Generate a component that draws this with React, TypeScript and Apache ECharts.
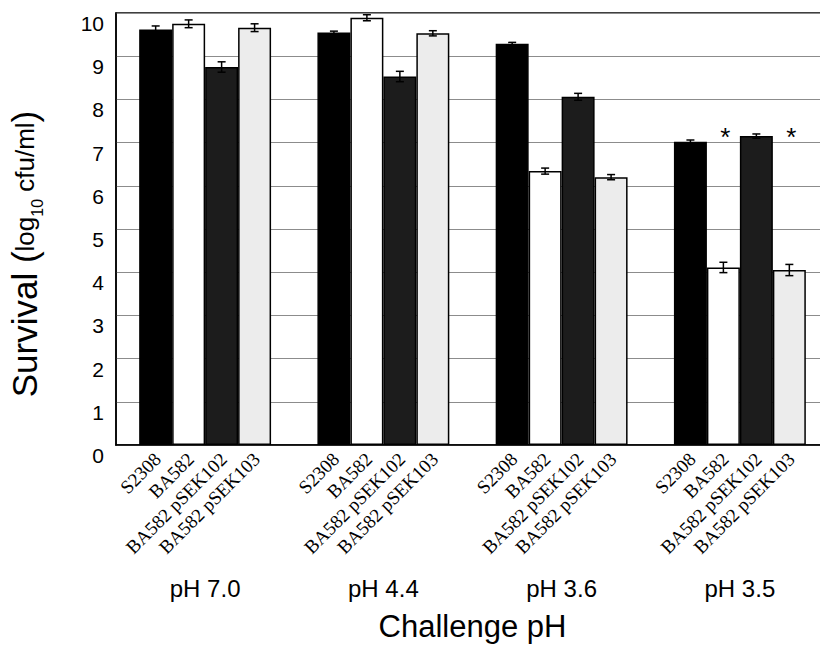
import React, { useEffect, useRef } from "react";
import * as echarts from "echarts";

const categories = ["pH 7.0", "pH 4.4", "pH 3.6", "pH 3.5"];
const strains = ["S2308", "BA582", "BA582 pSEK102", "BA582 pSEK103"];
const s2308 = [9.62, 9.55, 9.29, 7.02];
const ba582 = [9.75, 9.89, 6.34, 4.11];
const pSEK102 = [8.75, 8.53, 8.06, 7.15];
const pSEK103 = [9.66, 9.53, 6.2, 4.05];
const s2308Err = [0.08, 0.03, 0.03, 0.04];
const ba582Err = [0.09, 0.07, 0.07, 0.12];
const pSEK102Err = [0.12, 0.12, 0.08, 0.05];
const pSEK103Err = [0.09, 0.06, 0.06, 0.13];
// [category index, strain index, y position] for significance asterisks
const asterisks = [
  [3, 1, 7.28],
  [3, 3, 7.28],
];
const yTicks = [0, 10, 1];

const GAP = 0.26;
const SANS = "Liberation Sans";
const SERIF = "Liberation Serif";

export default function App() {
  const ref = useRef<HTMLDivElement>(null);
  useEffect(() => {
    if (!ref.current) return;
    const chart = echarts.init(ref.current, null, { renderer: "svg" });
    const values = [s2308, ba582, pSEK102, pSEK103];
    const errs = [s2308Err, ba582Err, pSEK102Err, pSEK103Err];
    const fills = ["#000000", "#ffffff", "#1c1c1c", "#ececec"];
    const errData: number[][] = [];
    categories.forEach((_, i) => {
      strains.forEach((_, j) => {
        errData.push([i, j, values[j][i], errs[j][i]]);
      });
    });

    const barX = (api: any, i: number, j: number) => {
      const band = api.size([1, 0])[0];
      const bw = (band * (1 - GAP)) / 4;
      return api.coord([i, 0])[0] + (j - 1.5) * bw;
    };

    chart.setOption({
      animation: false,
      backgroundColor: "#ffffff",
      grid: {
        left: 116,
        right: 1,
        top: 13,
        bottom: 202,
        show: true,
        borderColor: "#000",
        borderWidth: 1.5,
        backgroundColor: "transparent",
      },
      xAxis: {
        type: "category",
        data: categories,
        axisLine: { lineStyle: { color: "#000", width: 1.5 } },
        axisTick: { show: false },
        axisLabel: { margin: 131, fontSize: 24, color: "#000", fontFamily: SANS },
        name: "Challenge pH",
        nameLocation: "middle",
        nameGap: 166,
        nameTextStyle: { fontSize: 31, color: "#000", fontFamily: SANS },
      },
      yAxis: {
        type: "value",
        min: yTicks[0],
        max: yTicks[1],
        interval: yTicks[2],
        axisLine: { show: true, lineStyle: { color: "#000", width: 1.5 } },
        axisTick: { show: false },
        axisLabel: {
          margin: 12,
          fontSize: 21,
          color: "#000",
          fontFamily: SANS,
          verticalAlign: "top",
          lineHeight: 21,
        },
        splitLine: { show: true, lineStyle: { color: "#8c8c8c", width: 1 } },
      },
      graphic: [
        {
          type: "text",
          x: 22,
          y: 254,
          rotation: Math.PI / 2,
          style: {
            text: "{a|Survival (}{b|log}{c|10}{b| cfu/ml}{a|)}",
            textAlign: "center",
            textVerticalAlign: "middle",
            align: "center",
            verticalAlign: "middle",
            fill: "#000",
            rich: {
              a: { fontSize: 35, fontFamily: SANS, verticalAlign: "bottom", lineHeight: 40 },
              b: { fontSize: 26, fontFamily: SANS, verticalAlign: "bottom", padding: [0, 0, 4, 0] },
              c: { fontSize: 16, fontFamily: SANS, verticalAlign: "bottom", padding: [0, 0, -3, 0] },
            },
          },
        },
      ],
      series: [
        ...strains.map((name, j) => ({
          type: "bar",
          name,
          data: values[j],
          barGap: "0%",
          barCategoryGap: GAP * 100 + "%",
          itemStyle: { color: fills[j], borderColor: "#000", borderWidth: 1.5 },
        })),
        {
          type: "custom",
          name: "errors",
          clip: false,
          z: 5,
          data: errData,
          encode: { x: 0, y: 2 },
          renderItem: (params: any, api: any) => {
            const i = api.value(0);
            const j = api.value(1);
            const v = api.value(2);
            const e = api.value(3);
            const cx = barX(api, i, j);
            const yt = api.coord([i, v + e])[1];
            const yb = api.coord([i, v - e])[1];
            const y0 = api.coord([i, 0])[1];
            const cap = 4;
            const ls = { stroke: "#000", lineWidth: 1.5 };
            return {
              type: "group",
              children: [
                { type: "line", shape: { x1: cx, y1: yt, x2: cx, y2: yb }, style: ls },
                { type: "line", shape: { x1: cx - cap, y1: yt, x2: cx + cap, y2: yt }, style: ls },
                { type: "line", shape: { x1: cx - cap, y1: yb, x2: cx + cap, y2: yb }, style: ls },
                {
                  type: "text",
                  x: cx + 2,
                  y: y0 + 11,
                  rotation: (Math.PI * 45) / 180,
                  style: {
                    text: strains[j],
                    textAlign: "right",
                    textVerticalAlign: "middle",
                    align: "right",
                    verticalAlign: "middle",
                    font: `19px "${SERIF}"`,
                    fill: "#000",
                  },
                },
              ],
            };
          },
        },
        {
          type: "custom",
          name: "asterisks",
          clip: false,
          z: 6,
          data: asterisks,
          encode: { x: 0, y: 2 },
          renderItem: (params: any, api: any) => {
            const i = api.value(0);
            const j = api.value(1);
            const cx = barX(api, i, j);
            const y = api.coord([i, api.value(2)])[1];
            return {
              type: "text",
              x: cx + 2,
              y: y + 6,
              style: {
                text: "*",
                textAlign: "center",
                textVerticalAlign: "middle",
                align: "center",
                verticalAlign: "middle",
                font: `26px "${SANS}"`,
                fill: "#000",
              },
            };
          },
        },
      ],
    });
    return () => chart.dispose();
  }, []);
  return (
    <div
      style={{
        position: "absolute",
        left: 0,
        top: 0,
        width: 820,
        height: 647,
        overflow: "hidden",
      }}
    >
      <div ref={ref} style={{ width: 830, height: 647 }} />
    </div>
  );
}
